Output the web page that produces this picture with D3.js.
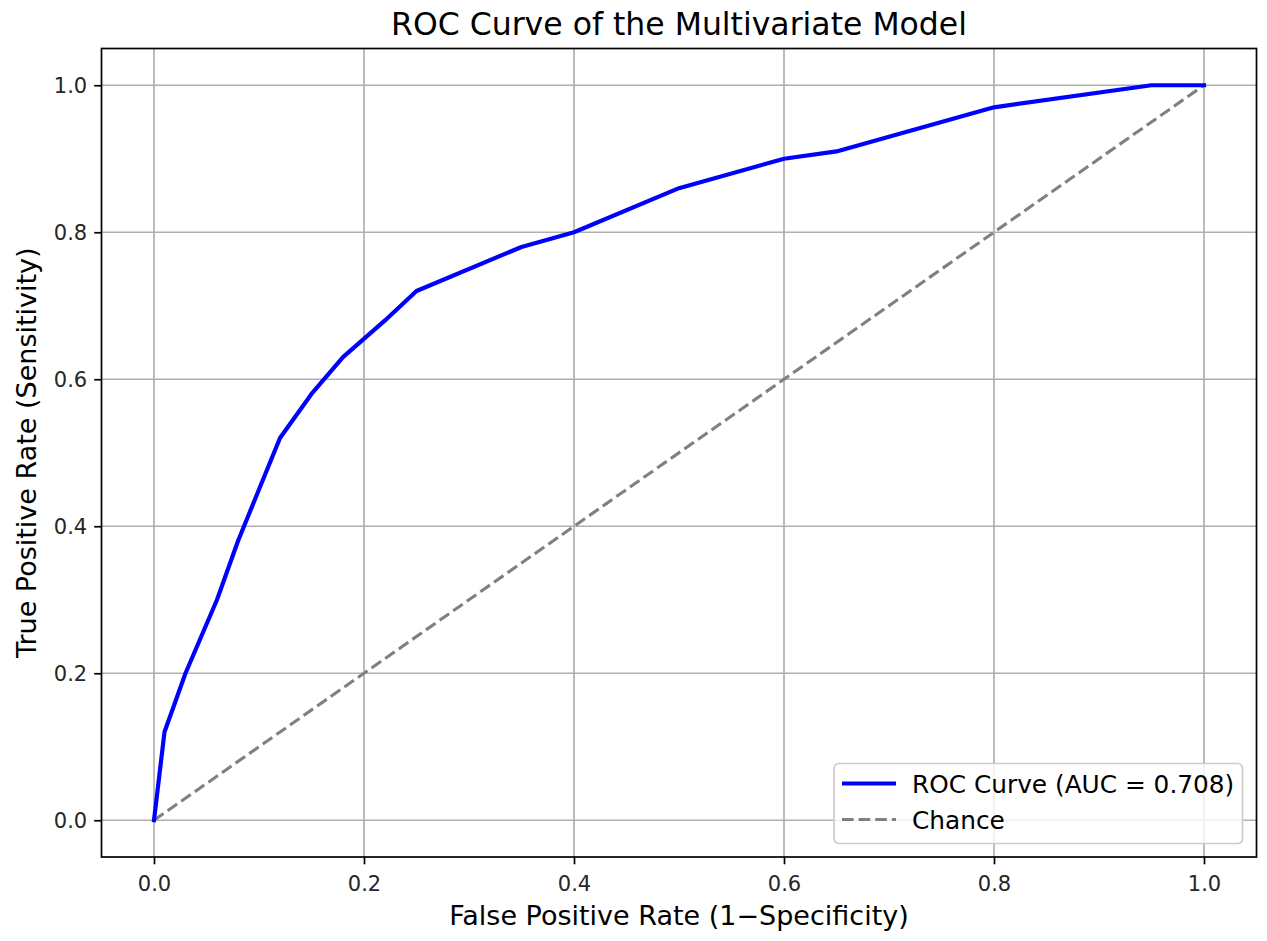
<!DOCTYPE html>
<html>
<head>
<meta charset="utf-8">
<script src="https://cdn.jsdelivr.net/npm/d3@7/dist/d3.min.js"></script>
<style>
  html, body { margin: 0; padding: 0; background: #fff; }
  svg { display: block; font-family: "DejaVu Sans", sans-serif; }
</style>
</head>
<body>
<svg id="chart" width="1267" height="941"></svg>
<script>
// ---- data ----
const fpr = [0.00, 0.01, 0.03, 0.06, 0.08, 0.12, 0.15, 0.18, 0.22, 0.25, 0.35, 0.40, 0.50, 0.60, 0.65, 0.80, 0.95, 1.00];
const tpr = [0.00, 0.12, 0.20, 0.30, 0.38, 0.52, 0.58, 0.63, 0.68, 0.72, 0.78, 0.80, 0.86, 0.90, 0.91, 0.97, 1.00, 1.00];
const chanceX = [0, 1];
const chanceY = [0, 1];
const xTicks = [0.0, 0.2, 0.4, 0.6, 0.8, 1.0];
const yTicks = [0.0, 0.2, 0.4, 0.6, 0.8, 1.0];
const titleText = "ROC Curve of the Multivariate Model";
const xLabel = "False Positive Rate (1\u2212Specificity)";
const yLabel = "True Positive Rate (Sensitivity)";
const aucValue = 0.708;
const legendLabels = ["ROC Curve (AUC = " + aucValue.toFixed(3) + ")", "Chance"];

// ---- layout ----
const svg = d3.select("#chart");
const L = 101.5, R = 1256.5, T = 48.5, B = 857;
const x = d3.scaleLinear().domain([-0.05, 1.05]).range([L, R]);
const y = d3.scaleLinear().domain([-0.05, 1.05]).range([B, T]);

const tickFont = 21, labelFont = 27, titleFont = 31.5, legendFont = 24.8;
const gridColor = "#b0b0b0";

// grid
const g = svg.append("g");
g.selectAll(".vgrid").data(xTicks).enter().append("line")
  .attr("x1", d => x(d)).attr("x2", d => x(d))
  .attr("y1", T).attr("y2", B)
  .attr("stroke", gridColor).attr("stroke-width", 1.7);
g.selectAll(".hgrid").data(yTicks).enter().append("line")
  .attr("x1", L).attr("x2", R)
  .attr("y1", d => y(d)).attr("y2", d => y(d))
  .attr("stroke", gridColor).attr("stroke-width", 1.7);

// clip
svg.append("clipPath").attr("id", "clip").append("rect")
  .attr("x", L).attr("y", T).attr("width", R - L).attr("height", B - T);

// chance line
const chanceData = chanceX.map((v, i) => [v, chanceY[i]]);
svg.append("path").datum(chanceData)
  .attr("clip-path", "url(#clip)")
  .attr("d", d3.line().x(d => x(d[0])).y(d => y(d[1])))
  .attr("fill", "none").attr("stroke", "#808080")
  .attr("stroke-width", 3.1).attr("stroke-dasharray", "11.6,5");

// ROC curve
const rocData = fpr.map((v, i) => [v, tpr[i]]);
svg.append("path").datum(rocData)
  .attr("clip-path", "url(#clip)")
  .attr("d", d3.line().x(d => x(d[0])).y(d => y(d[1])))
  .attr("fill", "none").attr("stroke", "#0000ff")
  .attr("stroke-width", 4.2).attr("stroke-linejoin", "round").attr("stroke-linecap", "square");

// axes
const xAxis = d3.axisBottom(x).tickValues(xTicks).tickFormat(d3.format(".1f")).tickSize(7.3).tickPadding(7);
const yAxis = d3.axisLeft(y).tickValues(yTicks).tickFormat(d3.format(".1f")).tickSize(7.3).tickPadding(7);

const gx = svg.append("g").attr("transform", `translate(0,${B})`).call(xAxis);
const gy = svg.append("g").attr("transform", `translate(${L},0)`).call(yAxis);
[gx, gy].forEach(a => {
  a.select(".domain").remove();
  a.selectAll(".tick line").attr("stroke", "#000").attr("stroke-width", 1.7);
  a.selectAll(".tick text").attr("fill", "#262626").style("font-size", tickFont + "px")
    .style("font-family", "'DejaVu Sans', sans-serif");
});
gx.selectAll(".tick text").attr("dy", "0.95em");
gy.selectAll(".tick text").attr("dy", "0.36em");

// frame
svg.append("rect").attr("x", L).attr("y", T).attr("width", R - L).attr("height", B - T)
  .attr("fill", "none").attr("stroke", "#000").attr("stroke-width", 1.7);

// title & labels
svg.append("text").attr("x", (L + R) / 2).attr("y", 35).attr("text-anchor", "middle")
  .style("font-size", titleFont + "px").attr("fill", "#000").text(titleText);
svg.append("text").attr("x", (L + R) / 2).attr("y", 925).attr("text-anchor", "middle")
  .style("font-size", labelFont + "px").attr("fill", "#000").text(xLabel);
svg.append("text").attr("transform", `translate(36,${(T + B) / 2}) rotate(-90)`)
  .attr("text-anchor", "middle")
  .style("font-size", labelFont + "px").attr("fill", "#000").text(yLabel);

// legend
const lg = svg.append("g");
lg.append("rect").attr("x", 834).attr("y", 763.5).attr("width", 408.5).attr("height", 80)
  .attr("rx", 5).attr("ry", 5)
  .attr("fill", "#fff").attr("fill-opacity", 0.8)
  .attr("stroke", "#cccccc").attr("stroke-width", 1.7);
const legendItems = [
  { label: legendLabels[0], color: "#0000ff", width: 4.2, dash: null, y: 783.5 },
  { label: legendLabels[1], color: "#808080", width: 3.1, dash: "11.6,5", y: 819.5 }
];
legendItems.forEach(it => {
  const ln = lg.append("line").attr("x1", 842).attr("x2", 896).attr("y1", it.y).attr("y2", it.y)
    .attr("stroke", it.color).attr("stroke-width", it.width);
  if (it.dash) ln.attr("stroke-dasharray", it.dash);
  lg.append("text").attr("x", 912).attr("y", it.y + 9.5)
    .style("font-size", legendFont + "px").attr("fill", "#000").text(it.label);
});
</script>
</body>
</html>
